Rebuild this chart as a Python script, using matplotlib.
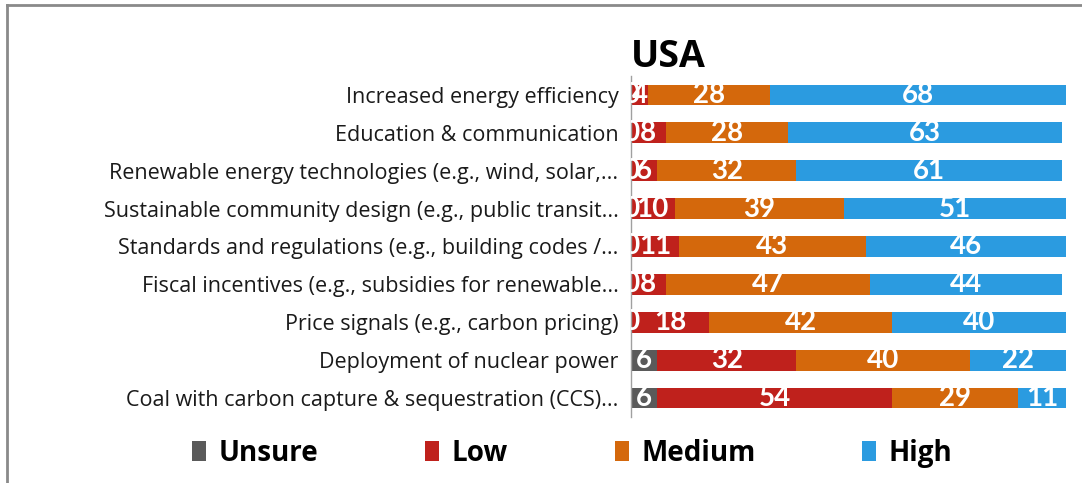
import numpy as np
import matplotlib
matplotlib.use("Agg")
import matplotlib.pyplot as plt
from matplotlib.patches import Patch
from matplotlib.lines import Line2D

plt.rcParams["font.family"] = ["Open Sans", "DejaVu Sans"]

# data (percent of respondents), top row first
options = ['Increased energy efficiency',
           'Education & communication',
           'Renewable energy technologies (e.g., wind, solar,...',
           'Sustainable community design (e.g., public transit...',
           'Standards and regulations (e.g., building codes /...',
           'Fiscal incentives (e.g., subsidies for renewable...',
           'Price signals (e.g., carbon pricing)',
           'Deployment of nuclear power',
           'Coal with carbon capture & sequestration (CCS)...']
unsure = [0, 0, 0, 0, 0, 0, 0, 6, 6]
low = [4, 8, 6, 10, 11, 8, 18, 32, 54]
medium = [28, 28, 32, 39, 43, 47, 42, 40, 29]
high = [68, 63, 61, 51, 46, 44, 40, 22, 11]

series = [('Unsure', unsure, '#5a5a5a'),
          ('Low', low, '#bf211c'),
          ('Medium', medium, '#d4680c'),
          ('High', high, '#2b9be0')]

fig = plt.figure(figsize=(10.82, 4.83), dpi=100)
ax = fig.add_axes([0.5832, 0.1366, 0.402, 0.7061])

y = np.arange(len(options))
left = np.zeros(len(options))
for name, vals, col in series:
    vals = np.array(vals, dtype=float)
    ax.barh(y, vals, left=left, height=0.55, color=col, label=name)
    for yi, l, v in zip(y, left, vals):
        # zero labels sit on the axis edge and get half clipped, like the original
        ax.text(l + v / 2, yi, '%d' % v, ha='center', va='center',
                color='white', fontsize=20, fontweight='bold',
                family=['Lato', 'DejaVu Sans'], clip_on=True)
    left += vals

ax.set_xlim(0, 100)
ax.set_ylim(len(options) - 0.5, -0.5)
ax.set_yticks(y)
ax.set_yticklabels(options, fontsize=15.5, color='#1a1a1a')
ax.set_xticks([])
ax.tick_params(axis='y', length=0, pad=9)
for s in ['top', 'right', 'bottom']:
    ax.spines[s].set_visible(False)
ax.spines['left'].set_color('#a0a0a0')
ax.spines['left'].set_linewidth(1)

ax.set_title('USA', loc='left', fontsize=27, fontweight='bold', pad=-1)

handles = [Patch(facecolor=c, edgecolor='none') for _, _, c in series]
fig.legend(handles, [n for n, _, _ in series], ncol=4, loc='center',
           bbox_to_anchor=(0.529, 0.062), frameon=False,
           prop={'size': 20, 'weight': 'bold'},
           handlelength=0.5, handleheight=0.7, handletextpad=0.45,
           columnspacing=3.85)

# outer frame (only left and top edges visible)
fig.add_artist(Line2D([7 / 1082, 7 / 1082], [0, 1 - 5 / 483],
                      transform=fig.transFigure, color='#8a8a8a', lw=2))
fig.add_artist(Line2D([7 / 1082, 1], [1 - 5 / 483, 1 - 5 / 483],
                      transform=fig.transFigure, color='#8a8a8a', lw=2))

fig.savefig('out.png', dpi=100)
